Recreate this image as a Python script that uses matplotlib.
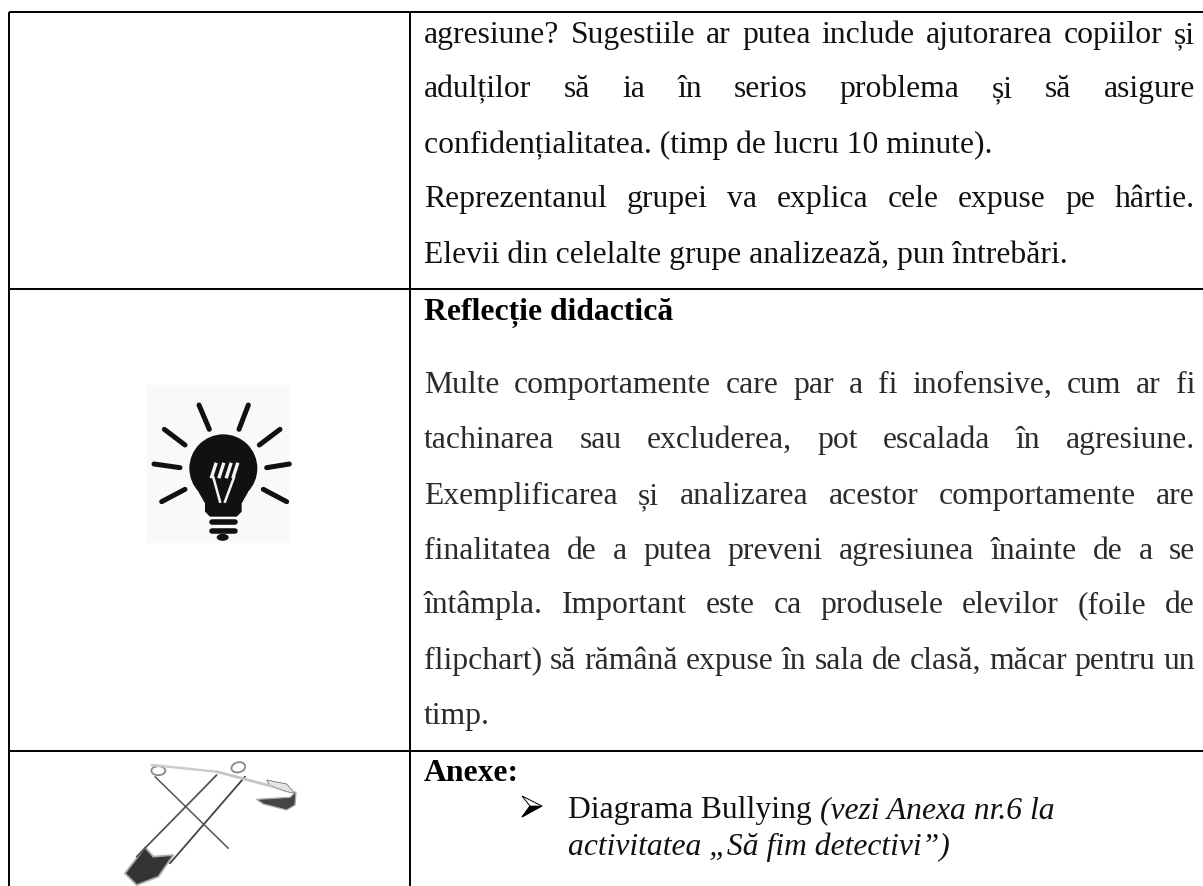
import matplotlib
matplotlib.use("Agg")
import matplotlib.pyplot as plt
from matplotlib.patches import Circle, Polygon, Rectangle, Ellipse

W, H = 1203, 886
SERIF = ["Liberation Serif", "DejaVu Serif"]
FS = 22.8

# (text, baseline y, justified?, bold?, colour)
cell_lines = [
    ("agresiune? Sugestiile ar putea include ajutorarea copiilor și", 43, True, False, "#111111"),
    ("adulților să ia în serios problema și să asigure", 97, True, False, "#111111"),
    ("confidențialitatea. (timp de lucru 10 minute).", 153, False, False, "#111111"),
    ("Reprezentanul grupei va explica cele expuse pe hârtie.", 207, True, False, "#111111"),
    ("Elevii din celelalte grupe analizează, pun întrebări.", 263, False, False, "#111111"),
    ("Reflecție didactică", 320, False, True, "#000000"),
    ("Multe comportamente care par a fi inofensive, cum ar fi", 393, True, False, "#2b2b2b"),
    ("tachinarea sau excluderea, pot escalada în agresiune.", 448, True, False, "#2b2b2b"),
    ("Exemplificarea și analizarea acestor comportamente are", 504, True, False, "#2b2b2b"),
    ("finalitatea de a putea preveni agresiunea înainte de a se", 559, True, False, "#2b2b2b"),
    ("întâmpla. Important este ca produsele elevilor (foile de", 613, True, False, "#2b2b2b"),
    ("flipchart) să rămână expuse în sala de clasă, măcar pentru un", 669, True, False, "#2b2b2b"),
    ("timp.", 724, False, False, "#2b2b2b"),
]
anexe_title = "Anexe:"
bullet_line = "Diagrama Bullying"
bullet_italic = "(vezi Anexa nr.6 la"
second_italic = "activitatea „Să fim detectivi”)"

fig = plt.figure(figsize=(W / 100, H / 100), dpi=100)
ax = fig.add_axes([0, 0, 1, 1])
ax.set_xlim(0, W)
ax.set_ylim(H, 0)
ax.axis("off")
fig.patch.set_facecolor("white")
renderer = fig.canvas.get_renderer()

LEFT, RIGHT = 424, 1195


def width(s, **kw):
    t = ax.text(0, 0, s, family=SERIF, fontsize=FS, **kw)
    w = t.get_window_extent(renderer).width
    t.remove()
    return w


for text, y, just, bold, col in cell_lines:
    kw = {"fontweight": "bold"} if bold else {}
    if just:
        words = text.split(" ")
        ws = [width(w, **kw) for w in words]
        gap = (RIGHT - LEFT - sum(ws)) / (len(words) - 1)
        x = LEFT
        for w, wd in zip(words, ws):
            ax.text(x, y, w, family=SERIF, fontsize=FS, va="baseline", color=col, **kw)
            x += wd + gap
    else:
        ax.text(LEFT, y, text, family=SERIF, fontsize=FS, va="baseline", color=col, **kw)

# last cell
ax.text(LEFT, 781, anexe_title, family=SERIF, fontsize=FS, fontweight="bold", va="baseline")
ax.add_patch(Polygon([[522, 796], [542, 806], [522, 817], [530, 806]], closed=True, fc="white", ec="black", lw=0.7))
ax.add_patch(Polygon([[522, 817], [542, 806], [530, 806]], closed=True, fc="black", ec="black", lw=0.5))
ax.text(568, 818, bullet_line, family=SERIF, fontsize=FS, va="baseline", color="#111111")
ax.text(568 + width(bullet_line) + 8, 818, bullet_italic, family=SERIF, fontsize=FS, style="italic", va="baseline", color="#111111")
ax.text(568, 855, second_italic, family=SERIF, fontsize=FS, style="italic", va="baseline", color="#111111")

# table rules
for y in [12, 289, 751]:
    ax.plot([9, W], [y, y], color="black", lw=1.4, solid_capstyle="butt")
ax.plot([9, 9], [12, H], color="black", lw=1.4, solid_capstyle="butt")
ax.plot([410, 410], [12, H], color="black", lw=1.4, solid_capstyle="butt")

# bulb (crop coordinates measured at 3x from (130,370))
ZX, ZY = 130, 370
def z(p, q):
    return (ZX + p / 3, ZY + q / 3)
INK = "#111111"
ax.add_patch(Rectangle((147, 385), 143, 158, fc="#f8f9f9", ec="none"))
ax.add_patch(Circle(z(280, 295), 34, fc=INK, ec="none"))
ax.add_patch(Polygon([z(205, 365), z(355, 365), z(335, 400), z(335, 425), z(320, 440), z(240, 440), z(225, 425), z(225, 400)], fc=INK, ec="none"))
rays = [[(207, 105), (238, 178)], [(355, 105), (327, 178)], [(103, 178), (165, 225)], [(450, 178), (388, 225)],
        [(72, 282), (150, 293)], [(478, 282), (410, 293)], [(95, 395), (165, 358)], [(470, 395), (400, 358)]]
for a, b in rays:
    p, q = z(*a), z(*b)
    ax.plot([p[0], q[0]], [p[1], q[1]], color=INK, lw=3.6, solid_capstyle="round")
for yy in [455, 482]:
    p, q = z(245, yy), z(315, yy)
    ax.plot([p[0], q[0]], [p[1], q[1]], color=INK, lw=4.0, solid_capstyle="round")
ax.add_patch(Ellipse(z(278, 502), 12, 7, fc=INK, ec="none"))
for x0 in [245, 268, 290, 310]:
    p, q = z(x0, 320), z(x0 + 12, 283)
    ax.plot([p[0], q[0]], [p[1], q[1]], color="#f4f4f4", lw=2.4)
for a, b in [((250, 322), (270, 395)), ((312, 322), (285, 395))]:
    p, q = z(*a), z(*b)
    ax.plot([p[0], q[0]], [p[1], q[1]], color="#f4f4f4", lw=1.8)

# safety pins (crop coordinates measured at 3x from (100,760))
def s(p, q):
    return (100 + p / 3, 760 + q / 3)
def seg(a, b, col, lw):
    p, q = s(*a), s(*b)
    ax.plot([p[0], q[0]], [p[1], q[1]], color=col, lw=lw, solid_capstyle="round")
seg((110, 290), (350, 45), "#555555", 1.3)
seg((210, 310), (435, 50), "#444444", 1.3)
seg((165, 50), (385, 265), "#555555", 1.1)
seg((155, 15), (350, 35), "#cccccc", 1.8)
seg((350, 35), (520, 80), "#c4c4c4", 2.0)
ax.add_patch(Ellipse(s(175, 32), 14, 9, fc="white", ec="#888888", lw=1.3))
ax.add_patch(Ellipse(s(415, 22), 14, 10, angle=-15, fc="white", ec="#888888", lw=1.3))
ax.add_patch(Polygon([s(470, 118), s(570, 112), s(588, 95), s(585, 135), s(560, 150), s(490, 132)], fc="#444444", ec="#aaaaaa", lw=0.9))
ax.add_patch(Polygon([s(500, 60), s(560, 72), s(585, 100), s(560, 95), s(510, 78)], fc="#e4e4e4", ec="#777777", lw=0.6))
ax.add_patch(Polygon([s(75, 340), s(135, 262), s(160, 290), s(220, 285), s(175, 350), s(110, 375)], fc="#333333", ec="#aaaaaa", lw=1.3))

fig.savefig("out.png", dpi=100, facecolor="white")
